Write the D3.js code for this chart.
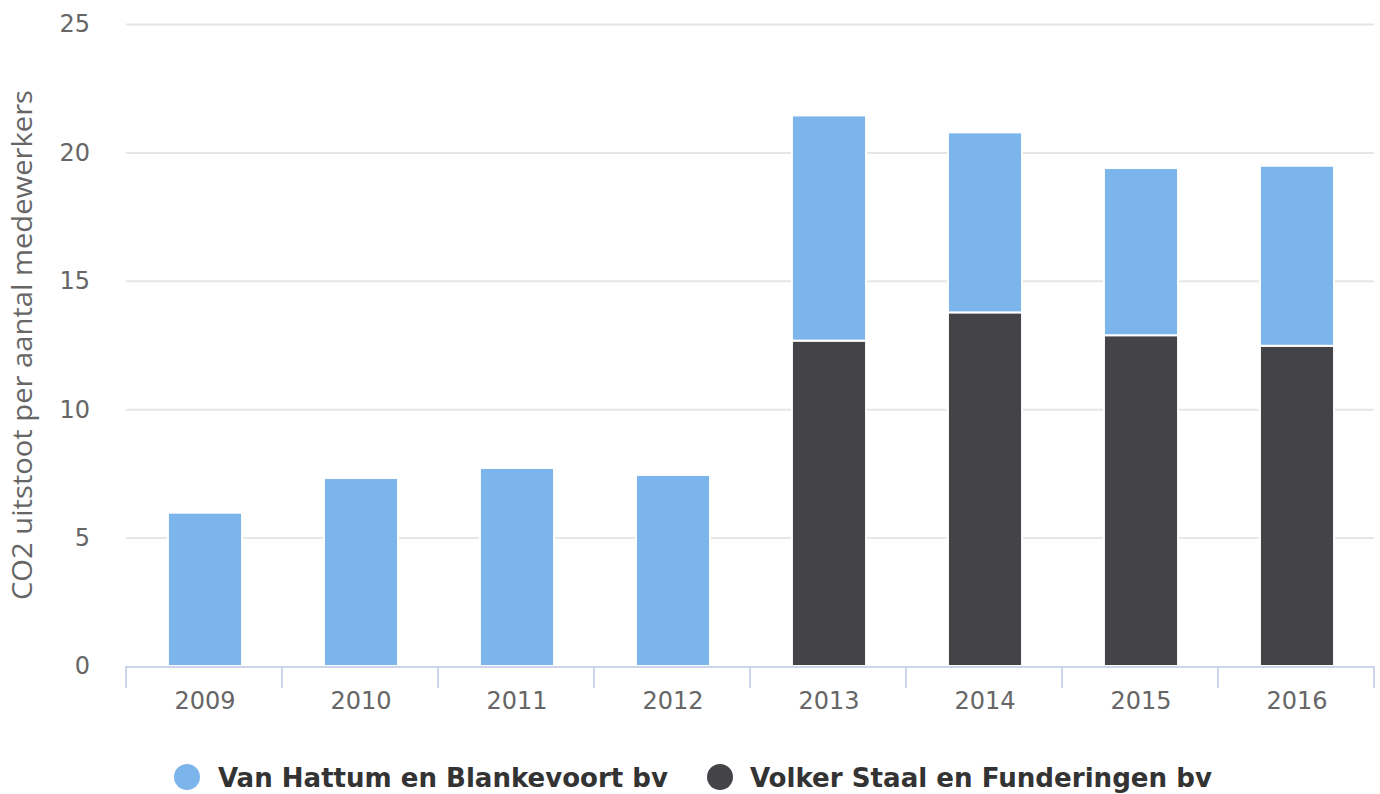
<!DOCTYPE html>
<html><head><meta charset="utf-8">
<script src="https://cdn.jsdelivr.net/npm/d3@7"></script>
<style>body{margin:0;background:#fff}svg{display:block}</style>
</head><body>
<svg id="c" width="1380" height="794"></svg>
<script>
const categories = ["2009","2010","2011","2012","2013","2014","2015","2016"];
const seriesNames = ["Van Hattum en Blankevoort bv","Volker Staal en Funderingen bv"];
const vanHattum = [5.97, 7.32, 7.71, 7.44, 8.77, 7.01, 6.51, 7.01];
const volkerStaal = [0, 0, 0, 0, 12.67, 13.77, 12.88, 12.47];
const yTicks = [0, 5, 10, 15, 20, 25];
const colors = ["#7cb5ec", "#434348"];
const yTitle = "CO2 uitstoot per aantal medewerkers";

(function () {
const svg = d3.select("#c");
const pl = 126, pr = 1374, pt = 24, pb = 666;
const x = d3.scaleBand().domain(categories).range([pl, pr]).paddingInner(0.525).paddingOuter(0.2625);
const y = d3.scaleLinear().domain([0, 25]).range([pb, pt]);

// gridlines
svg.append("g").selectAll("line").data(yTicks.filter(d => d > 0)).join("line")
  .attr("x1", pl).attr("x2", pr)
  .attr("y1", d => y(d) + 0.5).attr("y2", d => y(d) + 0.5)
  .attr("stroke", "#e6e6e6").attr("stroke-width", 2);

// y labels
svg.append("g").selectAll("text").data(yTicks).join("text")
  .attr("x", 90).attr("y", d => y(d)).attr("dy", "0.35em")
  .attr("text-anchor", "end").attr("fill", "#666")
  .attr("font-family", "DejaVu Sans, sans-serif").attr("font-size", 24)
  .text(d => d);

// y title
svg.append("text")
  .attr("transform", `translate(32,${(pt + pb) / 2}) rotate(-90)`)
  .attr("text-anchor", "middle").attr("fill", "#666")
  .attr("font-family", "Open Sans, sans-serif").attr("font-size", 27)
  .attr("textLength", 510).attr("lengthAdjust", "spacingAndGlyphs")
  .text(yTitle);

// stacked bars
const rows = categories.map((c, i) => ({cat: c, v0: volkerStaal[i], v1: vanHattum[i]}));
const stack = d3.stack().keys(["v0", "v1"])(rows);
const keyColor = {v0: colors[1], v1: colors[0]};
svg.append("g").selectAll("g").data(stack).join("g")
  .attr("fill", s => keyColor[s.key])
  .selectAll("rect").data(s => s.filter(d => d[1] - d[0] > 0)).join("rect")
  .attr("x", d => x(d.data.cat) + 1)
  .attr("width", x.bandwidth())
  .attr("y", d => y(d[1]))
  .attr("height", d => y(d[0]) - y(d[1]))
  .attr("stroke", "#fff").attr("stroke-width", 2);

// x axis
svg.append("line").attr("x1", pl).attr("x2", pr).attr("y1", pb + 1).attr("y2", pb + 1)
  .attr("stroke", "#ccd6eb").attr("stroke-width", 2);
const tickPos = d3.range(categories.length + 1).map(i => pl + i * (pr - pl) / categories.length);
svg.append("g").selectAll("line").data(tickPos).join("line")
  .attr("x1", d => d).attr("x2", d => d).attr("y1", pb).attr("y2", pb + 22)
  .attr("stroke", "#ccd6eb").attr("stroke-width", 2);
svg.append("g").selectAll("text").data(categories).join("text")
  .attr("x", d => x(d) + x.bandwidth() / 2 + 1).attr("y", 701).attr("dy", "0.35em")
  .attr("text-anchor", "middle").attr("fill", "#666")
  .attr("font-family", "DejaVu Sans, sans-serif").attr("font-size", 24)
  .text(d => d);

// legend
const legend = [
  {name: seriesNames[0], color: colors[0], cx: 187, tx: 218, w: 450},
  {name: seriesNames[1], color: colors[1], cx: 720, tx: 750, w: 462}
];
const lg = svg.append("g").selectAll("g").data(legend).join("g");
lg.append("circle").attr("cx", d => d.cx).attr("cy", 777).attr("r", 13).attr("fill", d => d.color);
lg.append("text").attr("x", d => d.tx).attr("y", 778).attr("dy", "0.35em")
  .attr("fill", "#333").attr("font-weight", "bold")
  .attr("font-family", "DejaVu Sans Condensed, DejaVu Sans, sans-serif").attr("font-size", 26)
  .attr("textLength", d => d.w).attr("lengthAdjust", "spacingAndGlyphs")
  .text(d => d.name);
})();
</script>
</body></html>
